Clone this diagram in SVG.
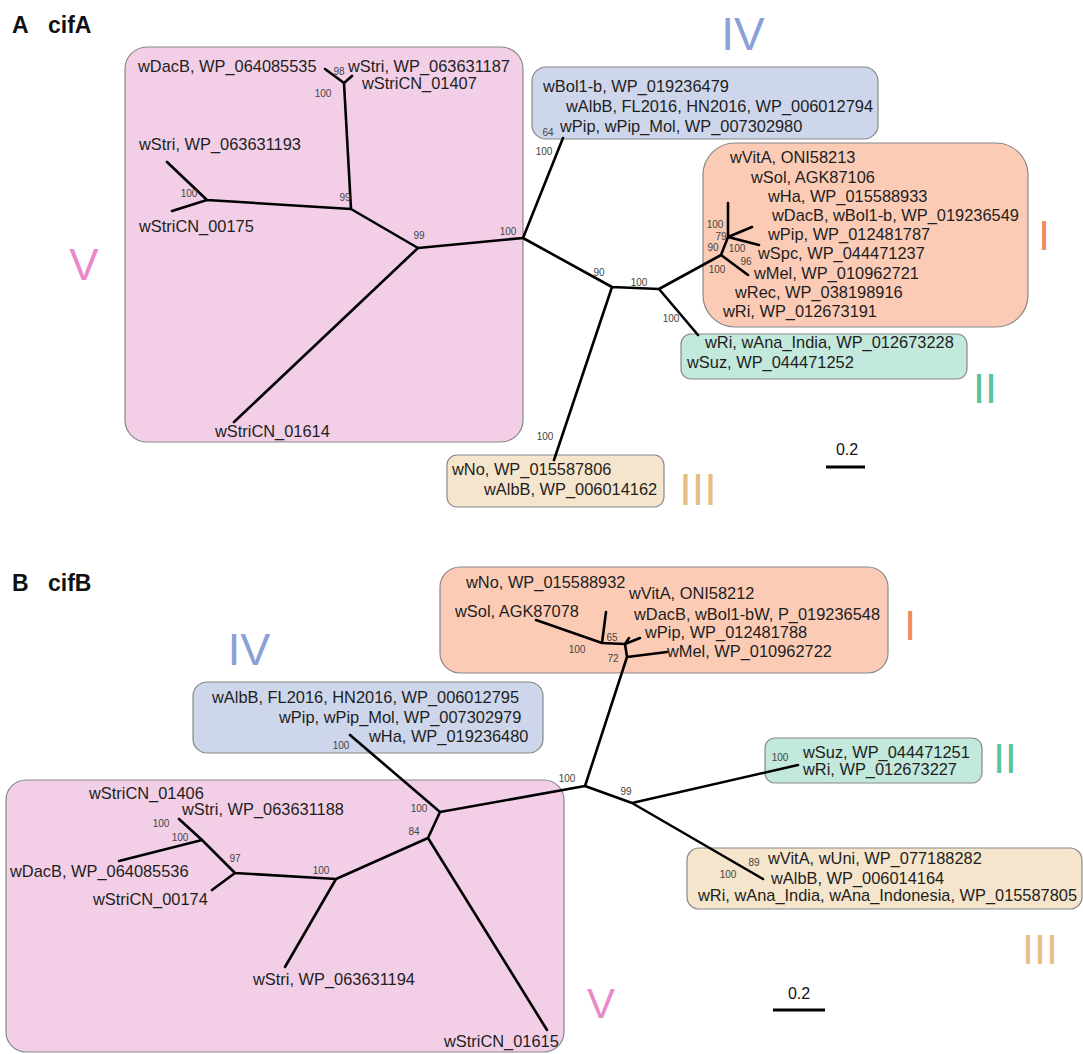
<svg xmlns="http://www.w3.org/2000/svg" width="1083" height="1054" viewBox="0 0 1083 1054">
<style>
text{font-family:"Liberation Sans",Arial,sans-serif}
.t{font-size:16.4px;fill:#1e1e1e}
.s{font-size:10px;fill:#444;text-anchor:middle}
.h{font-size:23px;font-weight:bold;fill:#111}
.r{text-anchor:middle}
.box{stroke:#888;stroke-width:1.2}
.pink{fill:#f2cfe6}
.blue{fill:#cdd6ea}
.orange{fill:#fbcbb6}
.green{fill:#c3e9dc}
.tan{fill:#f5e5cc}
.br{stroke:#000;stroke-width:2.6;fill:none;stroke-linecap:round;stroke-linejoin:round}
</style>
<rect width="1083" height="1054" fill="#fff"/>

<!-- Panel A -->
<g id="titleA"><text class="h" x="12" y="33">A</text><text class="h" x="48" y="33">cifA</text></g>

<g id="A-cladeV">
<rect class="box pink" x="125" y="47" width="398" height="395" rx="22"/>
<text class="t" x="138" y="72">wDacB, WP_064085535</text>
<text class="t" x="348" y="72">wStri, WP_063631187</text>
<text class="t" x="362" y="89">wStriCN_01407</text>
<text class="t" x="139" y="150">wStri, WP_063631193</text>
<text class="t" x="139" y="232">wStriCN_00175</text>
<text class="t" x="215" y="437">wStriCN_01614</text>
<text class="r" x="84" y="280" font-size="44" fill="#e98ac8">V</text>
</g>

<g id="A-cladeIV">
<rect class="box blue" x="532" y="67" width="346" height="72" rx="14"/>
<text class="t" x="543" y="92">wBol1-b, WP_019236479</text>
<text class="t" x="566" y="112">wAlbB, FL2016, HN2016, WP_006012794</text>
<text class="t" x="560" y="132">wPip, wPip_Mol, WP_007302980</text>
<text class="r" x="743" y="50" font-size="46" fill="#8aa0d6">IV</text>
</g>

<g id="A-cladeI">
<rect class="box orange" x="703" y="143" width="325" height="184" rx="32"/>
<text class="t" x="730" y="163">wVitA, ONI58213</text>
<text class="t" x="751" y="183">wSol, AGK87106</text>
<text class="t" x="768" y="202">wHa, WP_015588933</text>
<text class="t" x="772" y="221">wDacB, wBol1-b, WP_019236549</text>
<text class="t" x="768" y="240">wPip, WP_012481787</text>
<text class="t" x="758" y="259">wSpc, WP_044471237</text>
<text class="t" x="754" y="279">wMel, WP_010962721</text>
<text class="t" x="735" y="298">wRec, WP_038198916</text>
<text class="t" x="723" y="317">wRi, WP_012673191</text>
<text class="r" x="1044" y="250" font-size="42" fill="#f08a5d">I</text>
</g>

<g id="A-cladeII">
<rect class="box green" x="681" y="334" width="286" height="45" rx="10"/>
<text class="t" x="705" y="348">wRi, wAna_India, WP_012673228</text>
<text class="t" x="687" y="368">wSuz, WP_044471252</text>
<text class="r" x="985" y="403" font-size="43" fill="#58c49e">II</text>
</g>

<g id="A-cladeIII">
<rect class="box tan" x="447" y="455" width="217" height="52" rx="10"/>
<text class="t" x="452" y="475">wNo, WP_015587806</text>
<text class="t" x="484" y="495">wAlbB, WP_006014162</text>
<text class="r" x="698" y="505" font-size="45" fill="#e6bf86">III</text>
</g>

<g id="A-scale">
<text class="r" x="847" y="455" font-size="16" fill="#111">0.2</text>
<line x1="826" y1="467" x2="865" y2="467" stroke="#000" stroke-width="3"/>
</g>

<g id="A-connectors">
<path class="br" d="M325,69 L344,83 L352,76 M344,83 L351,209 M167,162 L207,200 L172,211 M207,200 L351,209 L418,248 L523,238 M234,422 L418,248 M523,238 L563,138 M523,238 L612,287 L554,460 M612,287 L659,289 L698,335 M659,289 L721,255 L748,275 M721,255 L728,237 L728,203 M728,237 L752,227 M728,237 L759,245"/>
<text class="s" x="339" y="75">98</text>
<text class="s" x="323" y="97">100</text>
<text class="s" x="189" y="197">100</text>
<text class="s" x="345" y="201">99</text>
<text class="s" x="419" y="239">99</text>
<text class="s" x="508" y="235">100</text>
<text class="s" x="548" y="136">64</text>
<text class="s" x="544" y="155">100</text>
<text class="s" x="599" y="276">90</text>
<text class="s" x="639" y="286">100</text>
<text class="s" x="715" y="228">100</text>
<text class="s" x="721" y="240">79</text>
<text class="s" x="713" y="251">90</text>
<text class="s" x="737" y="252">100</text>
<text class="s" x="746" y="265">96</text>
<text class="s" x="717" y="273">100</text>
<text class="s" x="671" y="322">100</text>
<text class="s" x="545" y="440">100</text>
</g>

<!-- Panel B -->
<g id="titleB"><text class="h" x="12" y="591">B</text><text class="h" x="48" y="591">cifB</text></g>

<g id="B-cladeI">
<rect class="box orange" x="440" y="567" width="448" height="106" rx="20"/>
<text class="t" x="466" y="588">wNo, WP_015588932</text>
<text class="t" x="629" y="599">wVitA, ONI58212</text>
<text class="t" x="455" y="617">wSol, AGK87078</text>
<text class="t" x="634" y="620">wDacB, wBol1-bW, P_019236548</text>
<text class="t" x="645" y="638">wPip, WP_012481788</text>
<text class="t" x="667" y="657">wMel, WP_010962722</text>
<text class="r" x="910" y="640" font-size="42" fill="#f08a5d">I</text>
</g>

<g id="B-cladeIV">
<rect class="box blue" x="193" y="682" width="350" height="71" rx="14"/>
<text class="t" x="212" y="703">wAlbB, FL2016, HN2016, WP_006012795</text>
<text class="t" x="279" y="723">wPip, wPip_Mol, WP_007302979</text>
<text class="t" x="369" y="742">wHa, WP_019236480</text>
<text class="r" x="249" y="665" font-size="45" fill="#8aa0d6">IV</text>
</g>

<g id="B-cladeV">
<rect class="box pink" x="6" y="780" width="558" height="272" rx="20"/>
<text class="t" x="89" y="799">wStriCN_01406</text>
<text class="t" x="182" y="815">wStri, WP_063631188</text>
<text class="t" x="10" y="877">wDacB, WP_064085536</text>
<text class="t" x="93" y="905">wStriCN_00174</text>
<text class="t" x="253" y="985">wStri, WP_063631194</text>
<text class="t" x="444" y="1047">wStriCN_01615</text>
<text class="r" x="601" y="1018" font-size="42" fill="#e98ac8">V</text>
</g>

<g id="B-cladeII">
<rect class="box green" x="765" y="738" width="217" height="45" rx="10"/>
<text class="t" x="803" y="758">wSuz, WP_044471251</text>
<text class="t" x="803" y="775">wRi, WP_012673227</text>
<text class="r" x="1005" y="773" font-size="42" fill="#58c49e">II</text>
</g>

<g id="B-cladeIII">
<rect class="box tan" x="687" y="848" width="395" height="61" rx="12"/>
<text class="t" x="768" y="864">wVitA, wUni, WP_077188282</text>
<text class="t" x="771" y="884">wAlbB, WP_006014164</text>
<text class="t" x="698" y="901">wRi, wAna_India, wAna_Indonesia, WP_015587805</text>
<text class="r" x="1040" y="964" font-size="43" fill="#e6bf86">III</text>
</g>

<g id="B-scale">
<text class="r" x="799" y="999" font-size="16" fill="#111">0.2</text>
<line x1="773" y1="1010" x2="825" y2="1010" stroke="#000" stroke-width="3"/>
</g>

<g id="B-connectors">
<path class="br" d="M585,786 L627,657 L667,652 M627,657 L625,644 L640,638 M625,644 L629,638 M625,644 L602,643 L606,612 M602,643 L536,620 M585,786 L632,803 L798,765 M632,803 L763,879 M585,786 L440,812 L350,735 M440,812 L428,838 L547,1030 M428,838 L336,879 L285,967 M336,879 L235,873 L212,890 M235,873 L202,840 L179,819 M202,840 L119,861"/>
<text class="s" x="612" y="641">65</text>
<text class="s" x="577" y="653">100</text>
<text class="s" x="613" y="662">72</text>
<text class="s" x="341" y="749">100</text>
<text class="s" x="567" y="782">100</text>
<text class="s" x="419" y="812">100</text>
<text class="s" x="414" y="835">84</text>
<text class="s" x="321" y="874">100</text>
<text class="s" x="235" y="862">97</text>
<text class="s" x="161" y="827">100</text>
<text class="s" x="180" y="841">100</text>
<text class="s" x="626" y="795">99</text>
<text class="s" x="780" y="761">100</text>
<text class="s" x="754" y="866">89</text>
<text class="s" x="728" y="878">100</text>
</g>
</svg>
